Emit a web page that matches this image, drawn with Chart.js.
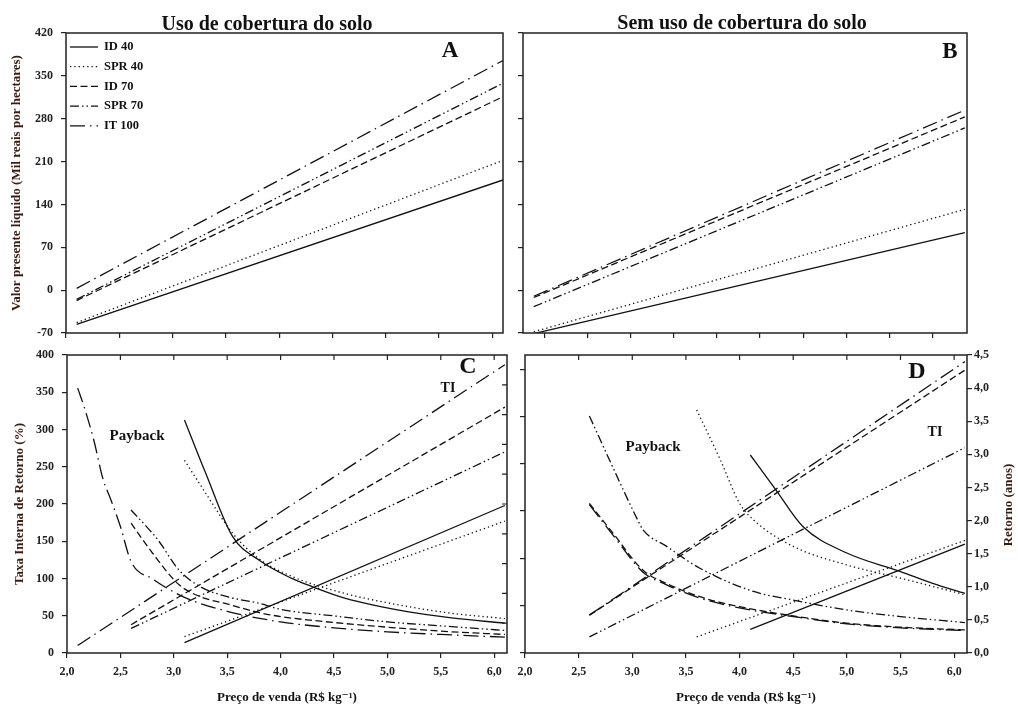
<!DOCTYPE html>
<html lang="pt">
<head>
<meta charset="UTF-8">
<title>VPL, TIR e Payback</title>
<script src="https://cdn.jsdelivr.net/npm/chart.js"></script>
<style>
    * { margin: 0; padding: 0; box-sizing: border-box; }
    body { background: #fff; width: 1018px; height: 708px; overflow: hidden; }
    .wrap { position: relative; width: 1018px; height: 708px; }
    canvas { position: absolute; left: 0; top: 0; }
</style>
</head>
<body>
<div class="wrap">
    <canvas id="chartA" width="1018" height="708"></canvas>
    <canvas id="chartB" width="1018" height="708"></canvas>
    <canvas id="chartC" width="1018" height="708"></canvas>
    <canvas id="chartD" width="1018" height="708"></canvas>
</div>
<script>
// ============= DATA =============
const seriesNames = ['ID 40', 'SPR 40', 'ID 70', 'SPR 70', 'IT 100'];

// A - VPL com cobertura do solo (mil R$/ha)
const priceA = [2.1, 6.1];
const vplA_ID40 = [-56, 180];
const vplA_SPR40 = [-53, 212];
const vplA_ID70 = [-17, 316];
const vplA_SPR70 = [-15, 338];
const vplA_IT100 = [3, 375];

// B - VPL sem cobertura do solo
const priceB = [2.1, 6.1];
const vplB_ID40 = [-71, 94];
const vplB_SPR40 = [-68, 132];
const vplB_ID70 = [-12, 283];
const vplB_SPR70 = [-27, 265];
const vplB_IT100 = [-10, 294];

// C - TIR (%) com cobertura
const priceC_IT100 = [2.1, 6.1];
const priceC_70 = [2.6, 6.1];
const priceC_40 = [3.1, 6.1];
const tirC_IT100 = [10, 387];
const tirC_ID70 = [38, 330];
const tirC_SPR70 = [33, 270];
const tirC_ID40 = [14, 198];
const tirC_SPR40 = [22, 177];

// C - Payback (anos) com cobertura
const pbPriceC_IT100 = [2.1, 2.16, 2.25, 2.34, 2.4, 2.5, 2.6, 2.8, 3.1, 3.5, 4.0, 4.5, 5.0, 5.5, 6.1];
const pbC_IT100 = [4.0, 3.72, 3.22, 2.61, 2.36, 1.91, 1.38, 1.12, 0.84, 0.63, 0.47, 0.38, 0.32, 0.28, 0.24];
const pbPriceC_ID70 = [2.6, 2.8, 3.05, 3.25, 3.5, 3.8, 4.0, 4.5, 5.0, 5.5, 6.1];
const pbC_ID70 = [1.96, 1.51, 1.03, 0.85, 0.74, 0.61, 0.55, 0.46, 0.39, 0.33, 0.28];
const pbPriceC_SPR70 = [2.6, 2.85, 3.05, 3.25, 3.5, 3.8, 4.0, 4.5, 5.0, 5.5, 6.1];
const pbC_SPR70 = [2.16, 1.71, 1.25, 1.0, 0.85, 0.75, 0.66, 0.56, 0.47, 0.41, 0.34];
const pbPriceC_ID40 = [3.1, 3.3, 3.55, 3.8, 4.1, 4.3, 4.6, 5.2, 5.6, 6.1];
const pbC_ID40 = [3.52, 2.71, 1.76, 1.40, 1.13, 1.0, 0.83, 0.62, 0.53, 0.45];
const pbPriceC_SPR40 = [3.1, 3.3, 3.55, 3.8, 4.1, 4.6, 5.2, 5.6, 6.1];
const pbC_SPR40 = [2.91, 2.41, 1.81, 1.42, 1.16, 0.90, 0.70, 0.60, 0.52];

// D - TIR (%) sem cobertura
const priceD_70 = [2.6, 6.1];
const priceD_SPR40 = [3.6, 6.1];
const priceD_ID40 = [4.1, 6.1];
const tirD_IT100 = [40, 308];
const tirD_ID70 = [40, 299];
const tirD_SPR70 = [17, 217];
const tirD_SPR40 = [17, 119];
const tirD_ID40 = [25, 115];

// D - Payback (anos) sem cobertura
const pbPriceD_SPR70 = [2.6, 2.8, 3.05, 3.1, 3.32, 3.63, 4.13, 4.5, 5.0, 5.5, 6.1];
const pbD_SPR70 = [3.58, 2.87, 2.01, 1.86, 1.61, 1.28, 0.93, 0.80, 0.65, 0.55, 0.46];
const pbPriceD_70 = [2.6, 2.82, 3.1, 3.32, 3.63, 4.0, 4.5, 5.0, 5.5, 6.1];
const pbD_ID70 = [2.26, 1.81, 1.25, 1.05, 0.85, 0.70, 0.56, 0.45, 0.39, 0.35];
const pbD_IT100 = [2.24, 1.78, 1.22, 1.03, 0.83, 0.68, 0.55, 0.44, 0.38, 0.34];
const pbPriceD_SPR40 = [3.6, 3.82, 4.0, 4.13, 4.5, 5.0, 5.5, 6.1];
const pbD_SPR40 = [3.67, 2.92, 2.26, 2.01, 1.61, 1.33, 1.13, 0.88];
const pbPriceD_ID40 = [4.1, 4.34, 4.59, 5.0, 5.5, 5.8, 6.1];
const pbD_ID40 = [2.99, 2.46, 1.91, 1.51, 1.23, 1.05, 0.90];

// axis ticks
const ticksB = [2.2, 2.6, 3.0, 3.4, 3.8, 4.2, 4.6, 5.0, 5.4, 5.8];
// =================================

const SERIF = "'Liberation Serif', 'DejaVu Serif', serif";
const INK = '#222';
const TITLE_INK = '#3a1c12';

const dashes = {
    'ID 40': [],
    'SPR 40': [1.3, 3],
    'ID 70': [7, 3.5],
    'SPR 70': [9, 3, 1.5, 3, 1.5, 3],
    'IT 100': [15, 5, 1.5, 5]
};

function series(name, xs, ys, axis, curved) {
    return {
        label: name,
        data: xs.map((x, i) => ({ x: x, y: ys[i] })),
        borderColor: '#111',
        backgroundColor: '#111',
        borderWidth: 1.3,
        borderDash: dashes[name],
        pointRadius: 0,
        tension: 0,
        cubicInterpolationMode: curved ? 'monotone' : 'default',
        yAxisID: axis || 'y',
        fill: false
    };
}

const comma = v => Number(v).toFixed(1).replace('.', ',');
const tickFont = { family: SERIF, size: 12, weight: 'bold' };
const titleFont = { family: SERIF, size: 13, weight: 'bold' };
const gridOut = { drawOnChartArea: false, tickLength: 5, color: INK, lineWidth: 1.2 };

function xAxis(max, showLabels, height) {
    return {
        type: 'linear', position: 'bottom', min: 2.0, max: max,
        ticks: { display: showLabels, stepSize: 0.5, includeBounds: false, font: tickFont, color: INK, padding: 7, callback: comma, maxRotation: 0 },
        grid: gridOut,
        border: { display: false },
        title: showLabels ? { display: true, text: 'Preço de venda (R$ kg⁻¹)', font: titleFont, color: '#111', padding: { top: 0, bottom: 3 } } : { display: false },
        afterFit: s => { s.height = height; }
    };
}

// texts, frames, legend and inward ticks drawn on top of each panel
const panelDecor = {
    chartA: {
        legend: { x: 70, y: 47, step: 19.7, len: 28 },
        texts: [
            { t: 'Uso de cobertura do solo', x: 267, y: 25, size: 20 },
            { t: 'A', x: 450, y: 51, size: 23 }
        ]
    },
    chartB: {
        texts: [
            { t: 'Sem uso de cobertura do solo', x: 742, y: 24, size: 20 },
            { t: 'B', x: 950, y: 52, size: 23 }
        ]
    },
    chartC: {
        topTicks: true, rightTicks: true,
        texts: [
            { t: 'C', x: 468, y: 367, size: 24 },
            { t: 'TI', x: 448, y: 388, size: 14 },
            { t: 'Payback', x: 137, y: 436, size: 15 }
        ]
    },
    chartD: {
        topTicks: true,
        texts: [
            { t: 'D', x: 917, y: 372, size: 24 },
            { t: 'TI', x: 935, y: 432, size: 14 },
            { t: 'Payback', x: 653, y: 447, size: 15 },
            { t: 'Retorno (anos)', x: 1009, y: 505, size: 13, rot: -Math.PI / 2, color: TITLE_INK }
        ]
    }
};

const decor = {
    id: 'decor',
    afterDraw(chart) {
        const cfg = panelDecor[chart.canvas.id] || {};
        const { ctx, chartArea: a } = chart;
        ctx.save();
        ctx.strokeStyle = INK;
        ctx.lineWidth = 1.5;
        ctx.strokeRect(a.left, a.top, a.right - a.left, a.bottom - a.top);
        ctx.lineWidth = 1.2;
        ctx.beginPath();
        if (cfg.topTicks) {
            const sx = chart.scales.x;
            sx.ticks.forEach(t => {
                const px = sx.getPixelForValue(t.value);
                if (px > a.left + 2 && px < a.right - 2) {
                    ctx.moveTo(px, a.top);
                    ctx.lineTo(px, a.top + 5);
                }
            });
        }
        if (cfg.rightTicks) {
            const sy = chart.scales.y2;
            sy.ticks.forEach(t => {
                const py = sy.getPixelForValue(t.value);
                if (py > a.top + 2 && py < a.bottom - 2) {
                    ctx.moveTo(a.right - 5, py);
                    ctx.lineTo(a.right, py);
                }
            });
        }
        ctx.stroke();

        // legend built from the datasets themselves
        if (cfg.legend) {
            const lg = cfg.legend;
            ctx.textAlign = 'left';
            ctx.textBaseline = 'middle';
            ctx.font = 'bold 12.5px ' + SERIF;
            chart.data.datasets.forEach((ds, i) => {
                const y = lg.y + i * lg.step;
                ctx.save();
                ctx.strokeStyle = ds.borderColor;
                ctx.lineWidth = ds.borderWidth;
                ctx.setLineDash(ds.borderDash || []);
                ctx.beginPath();
                ctx.moveTo(lg.x, y);
                ctx.lineTo(lg.x + lg.len, y);
                ctx.stroke();
                ctx.restore();
                ctx.fillStyle = '#111';
                ctx.fillText(ds.label, lg.x + lg.len + 6, y);
            });
        }

        ctx.textAlign = 'center';
        ctx.textBaseline = 'middle';
        (cfg.texts || []).forEach(t => {
            ctx.save();
            ctx.fillStyle = t.color || '#111';
            ctx.font = 'bold ' + t.size + 'px ' + SERIF;
            ctx.translate(t.x, t.y);
            if (t.rot) ctx.rotate(t.rot);
            ctx.fillText(t.t, 0, 0);
            ctx.restore();
        });
        ctx.restore();
    }
};

function panel(id, datasets, scales, padding) {
    return new Chart(document.getElementById(id), {
        type: 'line',
        data: { datasets: datasets },
        options: {
            responsive: false,
            animation: false,
            events: [],
            layout: { padding: padding },
            plugins: {
                legend: { display: false },
                tooltip: { enabled: false }
            },
            scales: scales
        },
        plugins: [decor]
    });
}

// ---- A ----
panel('chartA', [
    series('ID 40', priceA, vplA_ID40),
    series('SPR 40', priceA, vplA_SPR40),
    series('ID 70', priceA, vplA_ID70),
    series('SPR 70', priceA, vplA_SPR70),
    series('IT 100', priceA, vplA_IT100)
], {
    x: xAxis(6.1, false, 10),
    y: {
        min: -70, max: 420,
        ticks: { stepSize: 70, font: tickFont, color: INK, padding: 8 },
        grid: gridOut,
        border: { display: false },
        title: { display: true, text: 'Valor presente líquido (Mil reais por hectares)', font: titleFont, color: TITLE_INK, padding: { top: 9, bottom: 0 } },
        afterFit: s => { s.width = 66; }
    }
}, { left: 0, top: 33, right: 515, bottom: 365 });

// ---- B ----
const xB = xAxis(6.12, false, 10);
xB.afterBuildTicks = s => { s.ticks = ticksB.map(v => ({ value: v })); };
panel('chartB', [
    series('ID 40', priceB, vplB_ID40),
    series('SPR 40', priceB, vplB_SPR40),
    series('ID 70', priceB, vplB_ID70),
    series('SPR 70', priceB, vplB_SPR70),
    series('IT 100', priceB, vplB_IT100)
], {
    x: xB,
    y: {
        min: -70, max: 420,
        ticks: { display: false, stepSize: 70 },
        grid: gridOut,
        border: { display: false },
        afterFit: s => { s.width = 10; }
    }
}, { left: 513, top: 33, right: 51, bottom: 365 });

// ---- C ----
panel('chartC', [
    series('ID 40', priceC_40, tirC_ID40),
    series('SPR 40', priceC_40, tirC_SPR40),
    series('ID 70', priceC_70, tirC_ID70),
    series('SPR 70', priceC_70, tirC_SPR70),
    series('IT 100', priceC_IT100, tirC_IT100),
    series('ID 40', pbPriceC_ID40, pbC_ID40, 'y2', true),
    series('SPR 40', pbPriceC_SPR40, pbC_SPR40, 'y2', true),
    series('ID 70', pbPriceC_ID70, pbC_ID70, 'y2', true),
    series('SPR 70', pbPriceC_SPR70, pbC_SPR70, 'y2', true),
    series('IT 100', pbPriceC_IT100, pbC_IT100, 'y2', true)
], {
    x: xAxis(6.12, true, 55),
    y: {
        min: 0, max: 400,
        ticks: { stepSize: 50, font: tickFont, color: INK, padding: 8 },
        grid: gridOut,
        border: { display: false },
        title: { display: true, text: 'Taxa Interna de Retorno (%)', font: titleFont, color: TITLE_INK, padding: { top: 12, bottom: 0 } },
        afterFit: s => { s.width = 67; }
    },
    y2: {
        position: 'right', min: 0, max: 4.5,
        ticks: { display: false, stepSize: 0.45 },
        grid: { display: false },
        border: { display: false },
        afterFit: s => { s.width = 0; }
    }
}, { left: 0, top: 355, right: 511, bottom: 0 });

// ---- D ----
panel('chartD', [
    series('ID 40', priceD_ID40, tirD_ID40),
    series('SPR 40', priceD_SPR40, tirD_SPR40),
    series('ID 70', priceD_70, tirD_ID70),
    series('SPR 70', priceD_70, tirD_SPR70),
    series('IT 100', priceD_70, tirD_IT100),
    series('ID 40', pbPriceD_ID40, pbD_ID40, 'y2', true),
    series('SPR 40', pbPriceD_SPR40, pbD_SPR40, 'y2', true),
    series('ID 70', pbPriceD_70, pbD_ID70, 'y2', true),
    series('SPR 70', pbPriceD_SPR70, pbD_SPR70, 'y2', true),
    series('IT 100', pbPriceD_70, pbD_IT100, 'y2', true)
], {
    x: xAxis(6.12, true, 55),
    y: {
        min: 0, max: 315,
        ticks: { display: false, stepSize: 50, includeBounds: false },
        grid: gridOut,
        border: { display: false },
        afterFit: s => { s.width = 10; }
    },
    y2: {
        position: 'right', min: 0, max: 4.5,
        ticks: { stepSize: 0.5, font: tickFont, color: INK, padding: 2, callback: comma },
        grid: gridOut,
        border: { display: false },
        afterFit: s => { s.width = 51; }
    }
}, { left: 515, top: 355, right: 0, bottom: 0 });
</script>
</body>
</html>
